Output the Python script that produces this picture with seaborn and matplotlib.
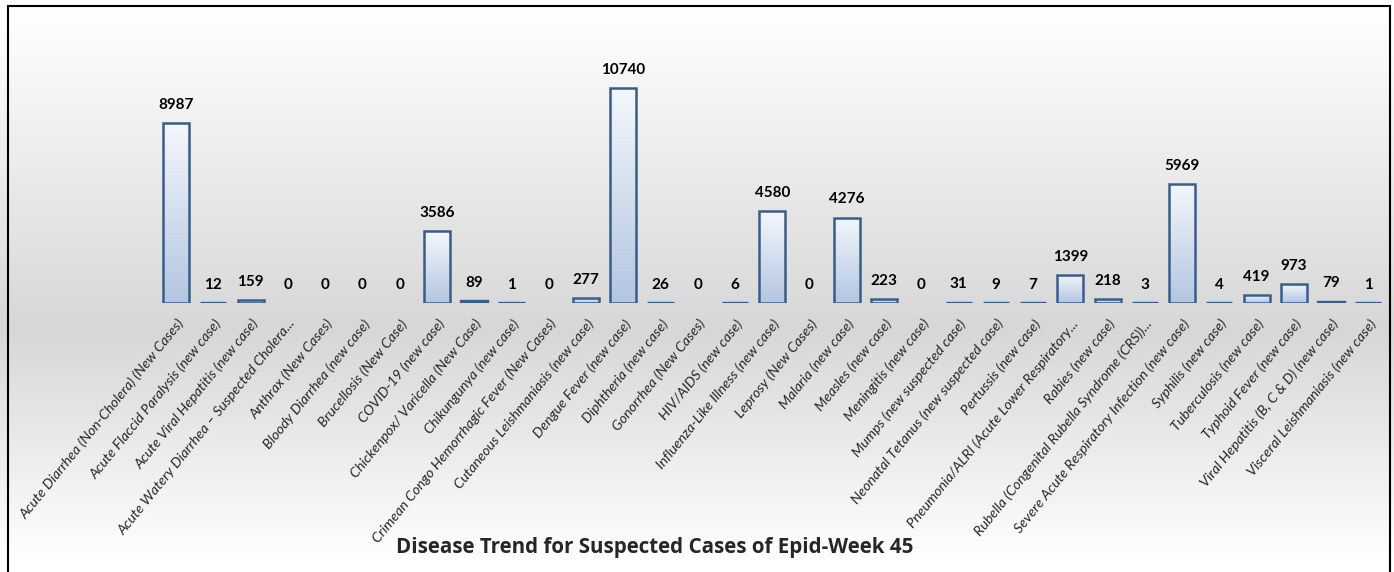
import numpy as np
import pandas as pd
import matplotlib
matplotlib.use("Agg")
import matplotlib.pyplot as plt
import matplotlib.transforms as mtransforms
from matplotlib.colors import LinearSegmentedColormap
from matplotlib.patches import Rectangle
import seaborn as sns

# data
diseases = [
    "Acute Diarrhea (Non-Cholera) (New Cases)",
    "Acute Flaccid Paralysis (new case)",
    "Acute Viral Hepatitis (new case)",
    "Acute Watery Diarrhea \u2013 Suspected Cholera...",
    "Anthrax (New Cases)",
    "Bloody Diarrhea (new case)",
    "Brucellosis (New Case)",
    "COVID-19 (new case)",
    "Chickenpox/ Varicella (New Case)",
    "Chikungunya (new case)",
    "Crimean Congo Hemorrhagic Fever (New Cases)",
    "Cutaneous Leishmaniasis (new case)",
    "Dengue Fever (new case)",
    "Diphtheria (new case)",
    "Gonorrhea (New Cases)",
    "HIV/AIDS (new case)",
    "Influenza-Like Illness (new case)",
    "Leprosy (New Cases)",
    "Malaria (new case)",
    "Measles (new case)",
    "Meningitis (new case)",
    "Mumps (new suspected case)",
    "Neonatal Tetanus (new suspected case)",
    "Pertussis (new case)",
    "Pneumonia/ALRI (Acute Lower Respiratory...",
    "Rabies (new case)",
    "Rubella (Congenital Rubella Syndrome (CRS))...",
    "Severe Acute Respiratory Infection (new case)",
    "Syphilis (new case)",
    "Tuberculosis (new case)",
    "Typhoid Fever (new case)",
    "Viral Hepatitis (B, C & D) (new case)",
    "Visceral Leishmaniasis (new case)",
]
cases = [8987, 12, 159, 0, 0, 0, 0, 3586, 89, 1, 0, 277, 10740, 26, 0, 6,
         4580, 0, 4276, 223, 0, 31, 9, 7, 1399, 218, 3, 5969, 4, 419, 973, 79, 1]

title = "Disease Trend for Suspected Cases of Epid-Week 45"

df = pd.DataFrame({"disease": diseases, "cases": cases})

sns.set_style("white")
plt.rcParams["font.family"] = ["Lato", "DejaVu Sans"]

fig = plt.figure(figsize=(13.94, 5.72), dpi=100)

# background gradient: white -> grey -> white
bg = fig.add_axes([0, 0, 1, 1], zorder=-10)
prof = np.concatenate([np.linspace(1.0, 0.84, 58), np.linspace(0.84, 1.0, 42)])
bg.imshow(prof[:, None], aspect="auto", cmap="gray", vmin=0, vmax=1,
          extent=[0, 1, 0, 1], origin="upper")
bg.set_axis_off()
bg.add_patch(Rectangle((0.006, -0.01), 0.991, 1.0, transform=bg.transAxes,
                       fill=False, edgecolor="black", linewidth=1.5))

ax = fig.add_axes([0.113, 0.47, 0.882, 0.42])
ax.patch.set_alpha(0)
sns.barplot(data=df, x="disease", y="cases", ax=ax, width=0.7,
            color="#b8cbe4", edgecolor="#385d8a", linewidth=1.8)

# gradient fill inside each bar, edges kept on top
bar_cmap = LinearSegmentedColormap.from_list("bar", ["#f4f7fc", "#b3c6e1"])
grad = np.linspace(0, 1, 100)[:, None]
for p in ax.patches:
    h = p.get_height()
    p.set_facecolor("none")
    p.set_zorder(3)
    if h <= 0:
        p.set_visible(False)
        continue
    if h < 150:
        p.set_linewidth(2.4)
    x0 = p.get_x()
    ax.imshow(grad, aspect="auto", cmap=bar_cmap, origin="upper",
              extent=[x0, x0 + p.get_width(), 0, h], zorder=2)

for p, v in zip(ax.patches, cases):
    ax.annotate(str(v), (p.get_x() + p.get_width() / 2, p.get_height()),
                xytext=(0, 8), textcoords="offset points", ha="center", va="bottom",
                fontsize=11, fontweight="bold", color="black")

ax.set_xlim(-0.5, len(cases) - 0.5)
ax.set_ylim(0, 12000)
ax.set_xlabel("")
ax.set_ylabel("")
ax.set_yticks([])
ax.tick_params(axis="x", length=0, pad=13)
ax.set_xticks(range(len(diseases)))
ax.set_xticklabels(diseases, rotation=51, ha="right", va="center",
                   rotation_mode="anchor", fontsize=10.3, fontstyle="italic")
shift = mtransforms.ScaledTranslation(5 / 100, 0, fig.dpi_scale_trans)
for lbl in ax.get_xticklabels():
    lbl.set_transform(lbl.get_transform() + shift)
sns.despine(ax=ax, left=True, bottom=True)

fig.text(0.47, 0.042, title, ha="center", va="center", fontsize=14.8,
         fontweight="bold", family=["Open Sans", "DejaVu Sans"])

fig.savefig("out.png", dpi=100)
